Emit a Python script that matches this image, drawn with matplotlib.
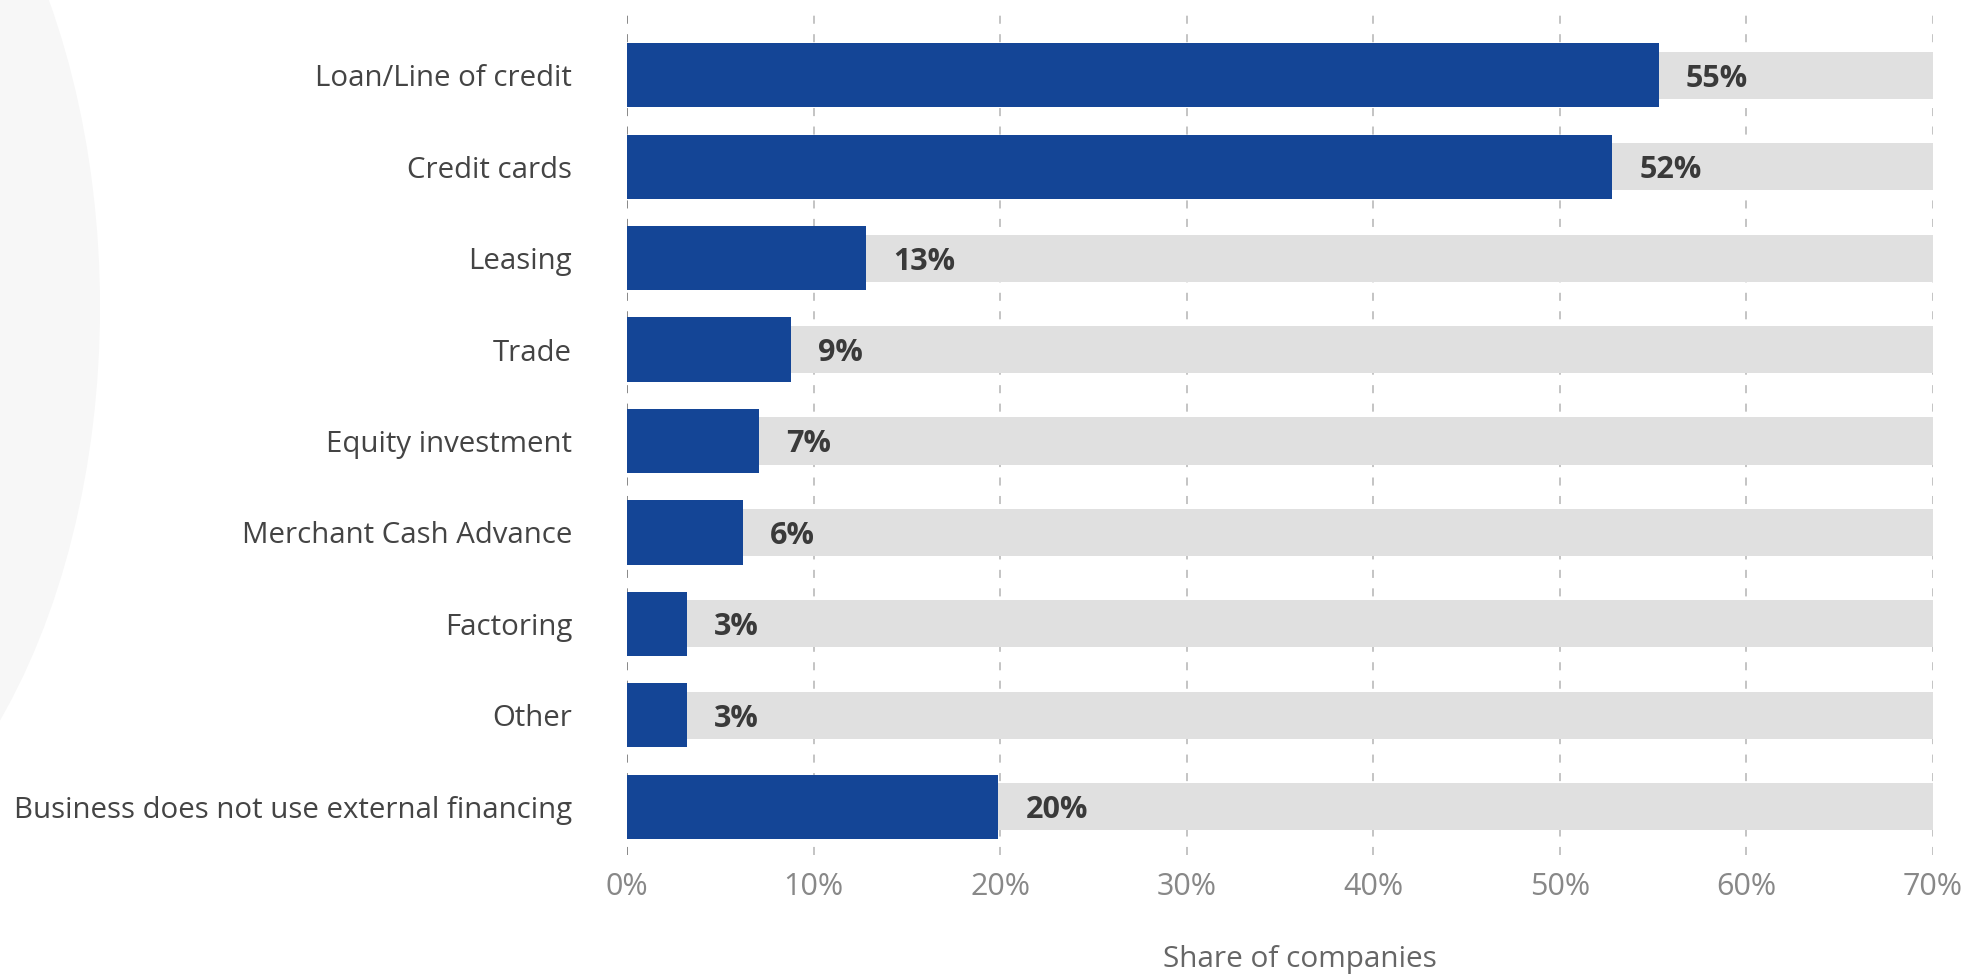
import matplotlib
matplotlib.use("Agg")
import matplotlib.pyplot as plt
from matplotlib.patches import Ellipse
from matplotlib.ticker import FuncFormatter

# data
categories = ["Loan/Line of credit", "Credit cards", "Leasing", "Trade",
              "Equity investment", "Merchant Cash Advance", "Factoring",
              "Other", "Business does not use external financing"]
shares = [55.3, 52.8, 12.8, 8.8, 7.1, 6.2, 3.2, 3.2, 19.9]
value_labels = ["55%", "52%", "13%", "9%", "7%", "6%", "3%", "3%", "20%"]
x_ticks = [0, 10, 20, 30, 40, 50, 60, 70]
x_max = 70

plt.rcParams['font.family'] = ['Open Sans', 'DejaVu Sans']
plt.rcParams['lines.scale_dashes'] = False

W, H = 1977, 976
fig = plt.figure(figsize=(W / 100, H / 100), dpi=100)

# faint background shape on the left
fig.add_artist(Ellipse((-263 / W, 669 / H), 726 / W, 1200 / H,
                       transform=fig.transFigure, color='#f7f7f7', zorder=0, lw=0))

ax = fig.add_axes([627 / W, (H - 855) / H, (1933 - 627) / W, (855 - 13) / H])
ax.patch.set_alpha(0)

y = list(range(len(categories)))
ax.barh(y, [x_max] * len(y), height=0.514, color='#e0e0e0', zorder=2)
ax.barh(y, shares, height=0.70, color='#144596', zorder=3)

for yi, v, lab in zip(y, shares, value_labels):
    ax.annotate(lab, (v, yi), xytext=(19.5, 0), textcoords='offset points',
                va='center_baseline', ha='left', fontsize=22, fontweight='bold',
                color='#3a3a3a', zorder=4)

for t in x_ticks:
    ax.axvline(t, color='#888888' if t == 0 else '#c4c4c4', lw=1.4,
               dashes=(5.8, 7.5), zorder=1)

ax.set_xlim(0, x_max)
ax.set_ylim(8.525, -0.678)
ax.set_xticks(x_ticks)
ax.xaxis.set_major_formatter(FuncFormatter(lambda v, p: f"{v:.0f}%"))
ax.set_yticks(y)
ax.set_yticklabels(categories)
ax.tick_params(axis='y', length=0, pad=39.5, labelsize=21.2, labelcolor='#444444')
ax.tick_params(axis='x', length=0, pad=12, labelsize=22, labelcolor='#888888')
for s in ax.spines.values():
    s.set_visible(False)

fig.text(1300 / W, (H - 960) / H, "Share of companies", ha='center', va='center',
         fontsize=21.4, color='#666666')

fig.savefig("out.png", dpi=100)
